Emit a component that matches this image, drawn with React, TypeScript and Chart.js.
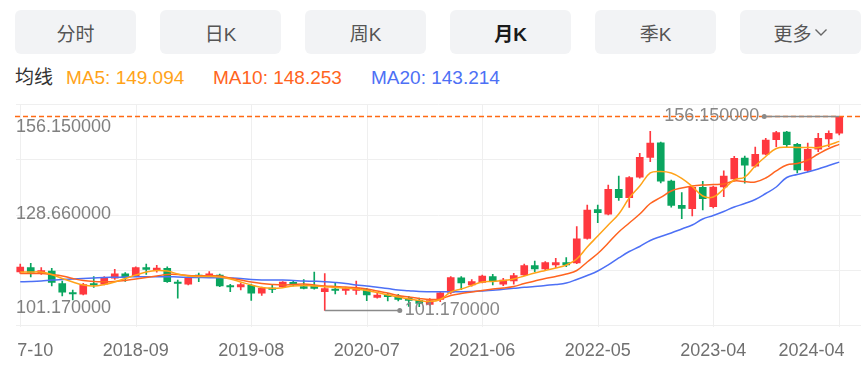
import React, { useEffect, useRef } from 'react';
import { Chart, registerables } from 'chart.js';

Chart.register(...registerables);

const months = [
  '2017-10', '2017-11', '2017-12',
  '2018-01', '2018-02', '2018-03', '2018-04', '2018-05', '2018-06', '2018-07', '2018-08', '2018-09', '2018-10', '2018-11', '2018-12',
  '2019-01', '2019-02', '2019-03', '2019-04', '2019-05', '2019-06', '2019-07', '2019-08', '2019-09', '2019-10', '2019-11', '2019-12',
  '2020-01', '2020-02', '2020-03', '2020-04', '2020-05', '2020-06', '2020-07', '2020-08', '2020-09', '2020-10', '2020-11', '2020-12',
  '2021-01', '2021-02', '2021-03', '2021-04', '2021-05', '2021-06', '2021-07', '2021-08', '2021-09', '2021-10', '2021-11', '2021-12',
  '2022-01', '2022-02', '2022-03', '2022-04', '2022-05', '2022-06', '2022-07', '2022-08', '2022-09', '2022-10', '2022-11', '2022-12',
  '2023-01', '2023-02', '2023-03', '2023-04', '2023-05', '2023-06', '2023-07', '2023-08', '2023-09', '2023-10', '2023-11', '2023-12',
  '2024-01', '2024-02', '2024-03', '2024-04',
];

const openPrices = [
  112.08, 113.30, 111.80, 112.37, 108.82, 106.13, 105.79, 108.82, 108.60, 110.30,
  111.57, 110.86, 113.30, 112.51, 113.13, 109.25, 108.62, 111.23, 110.75, 111.23,
  108.11, 107.83, 108.31, 106.05, 107.46, 107.92, 109.16, 107.92, 108.11, 106.50,
  107.27, 106.89, 106.84, 107.07, 104.91, 105.48, 105.08, 104.63, 104.06, 102.92,
  104.34, 106.27, 110.46, 108.40, 109.16, 110.75, 108.60, 109.53, 111.23, 113.87,
  112.93, 114.07, 114.72, 114.63, 121.63, 129.74, 128.46, 135.52, 133.11, 138.92,
  144.53, 148.72, 137.87, 130.98, 130.02, 136.08, 130.59, 136.17, 138.44, 144.39,
  142.04, 145.45, 149.57, 151.76, 148.27, 140.85, 146.86, 149.79, 151.39,
];

const highPrices = [
  114.35, 114.55, 113.36, 113.13, 109.53, 106.98, 108.88, 110.81, 110.75, 112.87,
  111.94, 113.58, 114.35, 113.98, 113.58, 109.81, 110.66, 111.80, 112.22, 111.51,
  108.60, 108.96, 108.68, 107.83, 108.60, 109.33, 109.53, 109.96, 112.08, 111.60,
  108.96, 107.75, 109.53, 107.46, 106.13, 106.05, 105.76, 105.19, 104.71, 104.52,
  106.50, 110.75, 110.75, 109.90, 111.23, 111.43, 110.30, 111.71, 114.35, 115.20,
  115.00, 115.97, 116.14, 124.92, 131.07, 131.07, 136.74, 139.29, 139.09, 145.72,
  151.96, 148.90, 138.15, 134.56, 136.45, 137.79, 136.45, 140.76, 144.87, 144.95,
  147.45, 149.97, 151.96, 151.96, 148.55, 148.64, 151.39, 152.10, 156.15,
];

const lowPrices = [
  111.66, 110.67, 111.37, 108.11, 105.28, 104.15, 105.57, 107.69, 108.40, 110.01,
  109.39, 110.75, 111.37, 112.00, 109.11, 104.63, 108.40, 109.33, 110.46, 107.92,
  106.50, 106.98, 104.06, 105.42, 106.21, 107.83, 108.11, 107.27, 107.21, 101.17,
  105.85, 105.76, 105.71, 103.95, 104.63, 103.86, 103.86, 102.31, 102.26, 102.60,
  103.66, 105.85, 107.07, 108.03, 108.96, 108.40, 108.20, 108.60, 111.03, 112.17,
  112.65, 113.30, 113.58, 114.43, 121.35, 126.05, 128.23, 132.34, 130.36, 138.64,
  143.34, 137.30, 130.42, 127.19, 127.95, 129.65, 130.22, 133.42, 137.87, 137.22,
  141.78, 145.24, 147.59, 147.51, 140.15, 140.51, 146.19, 147.59, 150.92,
];

const closePrices = [
  113.50, 111.94, 112.51, 109.16, 106.33, 105.85, 108.54, 108.40, 110.30, 111.57,
  110.52, 113.36, 112.79, 113.21, 109.33, 108.82, 110.52, 110.81, 111.57, 108.11,
  107.83, 108.48, 106.05, 107.46, 107.12, 109.19, 108.40, 107.46, 107.46, 107.35,
  106.84, 107.35, 107.54, 105.57, 105.57, 105.08, 104.34, 104.06, 103.16, 104.01,
  106.21, 110.52, 108.96, 109.33, 110.95, 109.53, 109.81, 111.03, 113.87, 112.93,
  114.72, 114.72, 114.07, 121.49, 129.65, 128.89, 135.52, 133.11, 138.86, 144.59,
  148.64, 137.79, 130.93, 130.13, 136.08, 132.83, 136.17, 139.29, 144.30, 142.32,
  145.44, 149.49, 151.62, 148.16, 141.00, 146.86, 149.97, 151.39, 156.15,
];

const ma5 = [
  112.08, 112.08, 112.08, 111.37, 110.24, 109.25, 108.40, 108.11, 108.54, 109.25,
  110.24, 111.23, 112.08, 112.51, 112.36, 111.51, 110.95, 110.81, 110.81, 110.66,
  110.10, 109.25, 108.40, 107.69, 107.46, 107.63, 108.11, 108.26, 108.11, 107.92,
  107.69, 107.55, 107.26, 106.84, 106.27, 105.56, 105.00, 104.43, 104.00, 103.72,
  104.29, 106.41, 107.26, 108.26, 109.25, 109.39, 109.67, 110.10, 110.95, 111.80,
  112.51, 113.21, 114.07, 115.77, 119.17, 122.28, 125.40, 128.52, 133.05, 136.45,
  140.14, 140.56, 140.14, 138.64, 136.31, 133.62, 133.34, 135.60, 138.15, 139.00,
  142.12, 144.81, 147.08, 147.45, 147.37, 147.37, 147.37, 148.07, 149.094,
];

const ma10 = [
  111.66, 111.66, 111.66, 111.37, 110.95, 110.24, 109.67, 109.39, 109.33, 109.39,
  109.67, 110.10, 110.52, 110.95, 111.37, 111.37, 111.09, 111.03, 111.03, 110.95,
  110.38, 109.81, 109.25, 108.82, 108.54, 108.40, 108.54, 108.68, 108.40, 108.11,
  107.97, 107.83, 107.63, 107.26, 106.70, 106.13, 105.42, 105.00, 104.57, 104.29,
  104.43, 105.42, 105.99, 106.41, 106.84, 107.26, 107.55, 107.97, 108.82, 109.53,
  110.24, 110.81, 111.51, 112.51, 114.92, 117.32, 120.30, 123.42, 125.97, 128.52,
  131.49, 133.20, 135.04, 135.89, 136.45, 136.74, 136.88, 137.02, 137.87, 137.73,
  137.59, 138.72, 140.71, 142.41, 142.83, 143.82, 145.52, 147.08, 148.253,
];

const ma20 = [
  109.33, 109.39, 109.53, 109.81, 109.96, 110.10, 110.24, 110.38, 110.52, 110.58,
  110.66, 110.75, 110.75, 110.75, 110.75, 110.66, 110.58, 110.52, 110.47, 110.47,
  110.38, 110.24, 109.96, 109.81, 109.81, 109.81, 109.67, 109.53, 109.45, 109.33,
  109.11, 108.82, 108.40, 108.11, 107.75, 107.40, 106.98, 106.78, 106.55, 106.50,
  106.50, 106.50, 106.50, 106.55, 106.70, 106.90, 107.18, 107.46, 107.75, 107.97,
  108.26, 108.54, 108.96, 109.96, 111.09, 112.36, 114.07, 116.05, 117.89, 119.31,
  121.01, 122.14, 123.13, 124.27, 125.40, 127.10, 128.09, 129.23, 130.50, 131.49,
  132.63, 134.33, 136.17, 138.86, 139.71, 140.42, 141.27, 142.26, 143.214,
];

const yLabelValues = [156.15, 128.66, 101.17];
const xTickLabels = ['2017-10', '2018-09', '2019-08', '2020-07', '2021-06', '2022-05', '2023-04', '2024-04'];
const Y_MIN = 97.06;
const Y_MAX = 159.69;

const tabs = ['分时', '日K', '周K', '月K', '季K', '更多'];
const activeTab = '月K';

const UP = '#FF383F';
const DOWN = '#0AA55F';
const C5 = '#FFA319';
const C10 = '#FF6420';
const C20 = '#4D70F5';
const FONT = '"Liberation Sans", Arial, "Noto Sans CJK SC", sans-serif';

const overlayPlugin = {
  id: 'klineOverlay',
  beforeDatasetsDraw(chart: any) {
    const { ctx, chartArea: a } = chart;
    const x = chart.scales.x;
    ctx.save();
    ctx.strokeStyle = '#EFEFEF';
    ctx.lineWidth = 1;
    for (let k = 0; k <= 4; k++) {
      const yy = Math.round(a.top + ((a.bottom - a.top) * k) / 4) + 0.5;
      ctx.beginPath();
      ctx.moveTo(1, yy);
      ctx.lineTo(chart.width, yy);
      ctx.stroke();
    }
    xTickLabels.forEach((lbl) => {
      const xx = Math.round(x.getPixelForValue(months.indexOf(lbl))) + 0.5;
      ctx.beginPath();
      ctx.moveTo(xx, a.top);
      ctx.lineTo(xx, a.bottom + 2);
      ctx.stroke();
    });
    ctx.restore();
  },
  afterDatasetsDraw(chart: any) {
    const { ctx, chartArea: a } = chart;
    const x = chart.scales.x;
    const y = chart.scales.y;
    ctx.save();

    // last price dashed line
    const last = closePrices[closePrices.length - 1];
    const ly = Math.round(y.getPixelForValue(last)) + 0.5;
    ctx.strokeStyle = '#FF6A13';
    ctx.lineWidth = 1.5;
    ctx.setLineDash([5, 3]);
    ctx.beginPath();
    ctx.moveTo(0, ly);
    ctx.lineTo(chart.width, ly);
    ctx.stroke();
    ctx.setLineDash([]);

    // y labels
    ctx.font = `18px ${FONT}`;
    ctx.fillStyle = '#808080';
    ctx.textAlign = 'left';
    ctx.textBaseline = 'alphabetic';
    yLabelValues.forEach((v, i) => {
      const py = y.getPixelForValue(v);
      const off = i === 0 ? 15.5 : i === yLabelValues.length - 1 ? 3 : 5.5;
      ctx.fillText(v.toFixed(6), 1, py + off);
    });

    // max / min markers
    const marker = (idx: number, val: number) => {
      const px = x.getPixelForValue(idx);
      const py = Math.round(y.getPixelForValue(val)) + 0.5;
      const dir = px > (a.left + a.right) / 2 ? -1 : 1;
      const ex = px + dir * 75;
      ctx.strokeStyle = '#8A8A8A';
      ctx.fillStyle = '#8A8A8A';
      ctx.lineWidth = 1.5;
      ctx.beginPath();
      ctx.moveTo(px, py);
      ctx.lineTo(ex, py);
      ctx.stroke();
      ctx.beginPath();
      ctx.arc(ex, py, 2.5, 0, Math.PI * 2);
      ctx.fill();
      ctx.font = `18px ${FONT}`;
      ctx.fillStyle = '#888888';
      ctx.textAlign = dir < 0 ? 'right' : 'left';
      ctx.textBaseline = 'middle';
      ctx.fillText(val.toFixed(6), ex + dir * 5, py);
    };
    const maxHigh = Math.max(...highPrices);
    const minLow = Math.min(...lowPrices);
    marker(highPrices.indexOf(maxHigh), maxHigh);
    marker(lowPrices.indexOf(minLow), minLow);

    // x labels (clipped at the left edge like the reference)
    ctx.save();
    ctx.beginPath();
    ctx.rect(3, a.bottom + 3, chart.width - 3, chart.height - a.bottom);
    ctx.clip();
    ctx.font = `18px ${FONT}`;
    ctx.fillStyle = '#707070';
    ctx.textBaseline = 'alphabetic';
    xTickLabels.forEach((lbl, i) => {
      const px = x.getPixelForValue(months.indexOf(lbl));
      if (i === xTickLabels.length - 1) {
        ctx.textAlign = 'right';
        ctx.fillText(lbl, a.right, a.bottom + 31);
      } else {
        ctx.textAlign = 'center';
        ctx.fillText(lbl, px, a.bottom + 31);
      }
    });
    ctx.restore();
    ctx.restore();
  },
};

function KChart() {
  const ref = useRef<HTMLCanvasElement | null>(null);
  useEffect(() => {
    if (!ref.current) return;
    const colors = closePrices.map((c, i) => (c >= openPrices[i] ? UP : DOWN));
    const chart = new Chart(ref.current, {
      type: 'bar',
      data: {
        labels: months,
        datasets: [
          { type: 'line', label: 'MA5', data: ma5, borderColor: C5, borderWidth: 1.5, pointRadius: 0, tension: 0.4, order: 0 } as any,
          { type: 'line', label: 'MA10', data: ma10, borderColor: C10, borderWidth: 1.5, pointRadius: 0, tension: 0.4, order: 0 } as any,
          { type: 'line', label: 'MA20', data: ma20, borderColor: C20, borderWidth: 1.5, pointRadius: 0, tension: 0.4, order: 0 } as any,
          {
            type: 'bar', label: 'wick', data: lowPrices.map((l, i) => [l, highPrices[i]]),
            backgroundColor: colors, barThickness: 1, grouped: false, order: 2,
          } as any,
          {
            type: 'bar', label: 'body', data: openPrices.map((o, i) => [o, closePrices[i]]),
            backgroundColor: colors, barThickness: 7, grouped: false, minBarLength: 1.5, order: 1,
          } as any,
        ],
      },
      options: {
        responsive: false,
        animation: false,
        events: [],
        layout: { padding: { left: 0, right: 16.5, top: 8, bottom: 47 } },
        plugins: { legend: { display: false }, tooltip: { enabled: false } },
        scales: {
          x: { type: 'category', display: false, offset: true, grid: { display: false } },
          y: { type: 'linear', display: false, min: Y_MIN, max: Y_MAX },
        },
      } as any,
      plugins: [overlayPlugin],
    });
    return () => chart.destroy();
  }, []);
  return (
    <canvas
      ref={ref}
      width={846}
      height={276}
      style={{ position: 'absolute', left: 15, top: 96, width: 846, height: 276 }}
    />
  );
}

export default function App() {
  const n = ma5.length - 1;
  return (
    <div
      style={{
        position: 'fixed', left: 0, top: 0, width: 861, height: 372, background: '#fff',
        fontFamily: FONT, overflow: 'hidden',
      }}
    >
      {tabs.map((t, i) => (
        <div
          key={t}
          style={{
            position: 'absolute', left: 15 + 145 * i, top: 10, width: 121, height: 44, borderRadius: 6,
            background: '#F2F3F5', display: 'flex', alignItems: 'center', justifyContent: 'center',
            fontSize: 19, color: t === activeTab ? '#1A1A1A' : '#555', fontWeight: t === activeTab ? 700 : 400,
          }}
        >
          <span>{t}</span>
          {t === '更多' && (
            <svg width="14" height="9" viewBox="0 0 14 9" style={{ marginLeft: 2 }}>
              <polyline points="1.5,1.5 7,7 12.5,1.5" fill="none" stroke="#666" strokeWidth="1.4" />
            </svg>
          )}
        </div>
      ))}
      <div style={{ position: 'absolute', top: 66, left: 0, height: 24, lineHeight: '24px', fontSize: 19, whiteSpace: 'nowrap' }}>
        <span style={{ position: 'absolute', left: 15, color: '#333' }}>均线</span>
        <span style={{ position: 'absolute', left: 66, color: C5 }}>MA5: {ma5[n].toFixed(3)}</span>
        <span style={{ position: 'absolute', left: 213, color: C10 }}>MA10: {ma10[n].toFixed(3)}</span>
        <span style={{ position: 'absolute', left: 371, color: C20 }}>MA20: {ma20[n].toFixed(3)}</span>
      </div>
      <KChart />
    </div>
  );
}
